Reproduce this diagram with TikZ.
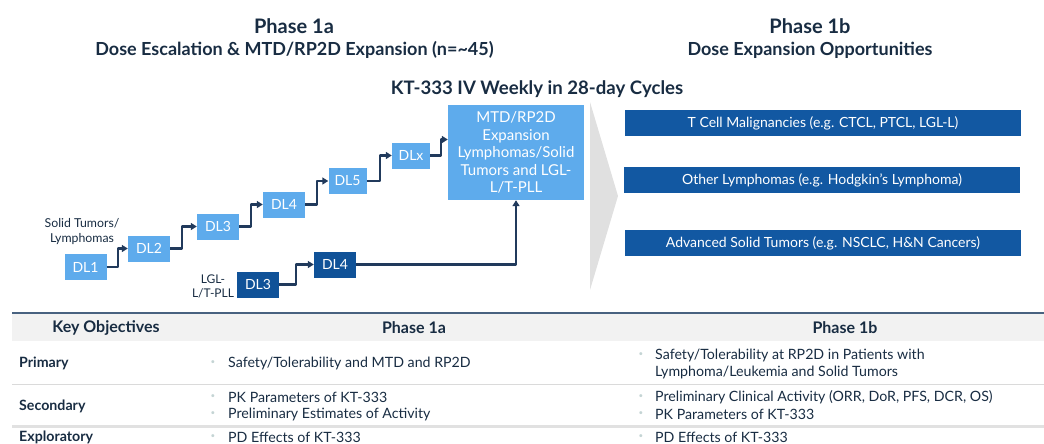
\documentclass[tikz,border=0pt]{standalone}
\usepackage{fontspec}
\setmainfont{Lato}
\usetikzlibrary{arrows.meta}
\definecolor{titlenavy}{RGB}{24,44,66}
\definecolor{dllight}{RGB}{94,171,236}
\definecolor{dldark}{RGB}{16,82,152}
\definecolor{optblue}{RGB}{18,88,162}
\definecolor{flownavy}{RGB}{33,58,92}
\definecolor{chevgray}{RGB}{224,224,224}
\definecolor{hdrgray}{RGB}{242,242,242}
\definecolor{rulegray}{RGB}{218,218,218}
\definecolor{topline}{RGB}{72,98,128}
\definecolor{bulgray}{RGB}{196,212,212}

\begin{document}
\begin{tikzpicture}[x=1pt,y=-1pt,line join=round,
  dlbox/.style={fill=dllight,text=white,minimum width=42pt,minimum height=26pt,inner sep=0pt,font=\fontsize{14}{16}\selectfont},
  dkbox/.style={dlbox,fill=dldark},
  optbox/.style={fill=optblue,text=white,minimum width=396pt,minimum height=26pt,inner sep=0pt,font=\fontsize{14}{16}\selectfont},
  flow/.style={draw=flownavy,line width=2.3pt,-{Triangle[length=6pt,width=7pt]}},
  ttl/.style={text=titlenavy,font=\fontsize{20}{23}\bfseries},
  subttl/.style={text=titlenavy,font=\fontsize{18}{21}\bfseries},
  cell/.style={anchor=west,inner sep=0pt,text=titlenavy,font=\fontsize{14.2}{17}\selectfont,align=left},
  rowhead/.style={cell,font=\fontsize{14.2}{17}\bfseries},
  colhead/.style={inner sep=0pt,text=titlenavy,font=\fontsize{16}{19}\bfseries},
  bul/.style={inner sep=0pt,text=bulgray,font=\fontsize{8}{8}\selectfont}]
  \useasboundingbox (0,0) rectangle (1044,444);

  % headings
  \node[ttl] (t1a) at (294,26) {Phase 1a};
  \node[subttl] (s1a) at (294.5,50) {Dose Escalation \& MTD/RP2D Expansion (n=\textasciitilde45)};
  \node[ttl] (t1b) at (810,26) {Phase 1b};
  \node[subttl] (s1b) at (810,50) {Dose Expansion Opportunities};
  \node[subttl,font=\fontsize{18.6}{21}\bfseries] (kt) at (537,89) {KT-333 IV Weekly in 28-day Cycles};

  % dose levels
  \node[dlbox] (dl1) at (85.5,267) {DL1};
  \node[dlbox] (dl2) at (149,248.5) {DL2};
  \node[dlbox] (dl3) at (218,226.5) {DL3};
  \node[dlbox] (dl4) at (284,204.5) {DL4};
  \node[dlbox,minimum width=38pt] (dl5) at (347.5,181) {DL5};
  \node[dlbox,minimum width=38pt] (dlx) at (411,155.5) {DLx};
  \node[dkbox] (dk3) at (258,284.5) {DL3};
  \node[dkbox] (dk4) at (335,264.5) {DL4};
  \node[dlbox,minimum width=136pt,minimum height=95pt,align=center,font=\fontsize{15}{17.5}\selectfont] (mtd) at (516,152.5)
    {MTD/RP2D\\Expansion\\Lymphomas/Solid\\Tumors and LGL-\\L/T-PLL};
  \node[text=titlenavy,align=center,font=\fontsize{12.3}{15}\selectfont] (solid) at (82,231.5) {Solid Tumors/\\Lymphomas};
  \node[text=titlenavy,align=center,font=\fontsize{12}{14}\selectfont] (lgl) at (213,286) {LGL-\\L/T-PLL};

  \draw[flow] (dl1.east) -- ++(11,0) |- (dl2.west);
  \draw[flow] (dl2.east) -- ++(12,0) |- (dl3.west);
  \draw[flow] (dl3.east) -- ++(12,0) |- (dl4.west);
  \draw[flow] (dl4.east) -- ++(12,0) |- (dl5.west);
  \draw[flow] (dl5.east) -- ++(13,0) |- (dlx.west);
  \draw[flow] (dlx.east) -- ++(11,0) |- ([yshift=13pt]mtd.west);
  \draw[flow] (dk3.east) -- ++(17,0) |- (dk4.west);
  \draw[flow] (dk4.east) -| (mtd.south);

  % chevron
  \fill[chevgray] (590,102) -- (618,196) -- (590,290) -- cycle;

  % expansion cohorts
  \node[optbox] (tcell) at (823,123) {T Cell Malignancies (e.g. CTCL, PTCL, LGL-L)};
  \node[optbox] (lymph) at (822,180) {Other Lymphomas (e.g. Hodgkin’s Lymphoma)};
  \node[optbox] (solidt) at (823,243) {Advanced Solid Tumors (e.g. NSCLC, H\&N Cancers)};

  % objectives table
  \fill[hdrgray] (12,313) rectangle (1044,341);
  \draw[topline,line width=1.8pt] (12,313) -- (1044,313);
  \draw[rulegray,line width=1pt] (12,384) -- (1044,384);
  \draw[rulegray!80,line width=2.5pt] (12,426.5) -- (1044,426.5);
  \node[colhead] (hko) at (106,328) {Key Objectives};
  \node[colhead] (h1a) at (414,328) {Phase 1a};
  \node[colhead] (h1b) at (845,328) {Phase 1b};
  \node[rowhead] (rprim) at (19,363) {Primary};
  \node[rowhead] (rsec) at (19,406) {Secondary};
  \node[rowhead] (rexp) at (19,437) {Exploratory};
  \foreach \y in {363,397,414,437} \node[bul] at (213,\y) {\textbullet};
  \foreach \y in {355,397,414,437} \node[bul] at (641,\y) {\textbullet};
  \node[cell] (a1) at (228,363) {Safety/Tolerability and MTD and RP2D};
  \node[cell] (a2) at (228,397) {PK Parameters of KT-333};
  \node[cell] (a3) at (228,414) {Preliminary Estimates of Activity};
  \node[cell] (a4) at (228,437) {PD Effects of KT-333};
  \node[cell] (b1) at (655,363.5) {Safety/Tolerability at RP2D in Patients with\\Lymphoma/Leukemia and Solid Tumors};
  \node[cell] (b2) at (655,397) {Preliminary Clinical Activity (ORR, DoR, PFS, DCR, OS)};
  \node[cell] (b3) at (655,414) {PK Parameters of KT-333};
  \node[cell] (b4) at (655,437) {PD Effects of KT-333};
\end{tikzpicture}
\end{document}
